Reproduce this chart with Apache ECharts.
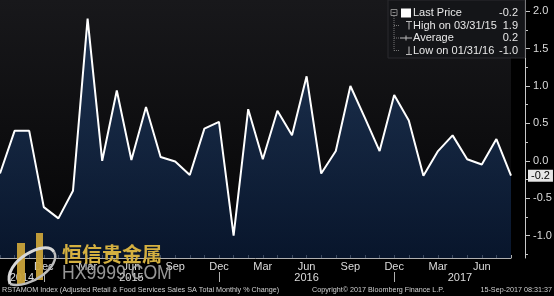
<!DOCTYPE html>
<html><head><meta charset="utf-8">
<script src="https://cdn.jsdelivr.net/npm/echarts@6/dist/echarts.min.js"></script>
<style>html,body{margin:0;padding:0;background:#000;}#c{width:554px;height:296px;}</style>
</head><body><div id="c"></div>
<script>
const categories = ['2014-09','2014-10','2014-11','2014-12','2015-01','2015-02','2015-03','2015-04','2015-05','2015-06','2015-07','2015-08','2015-09','2015-10','2015-11','2015-12','2016-01','2016-02','2016-03','2016-04','2016-05','2016-06','2016-07','2016-08','2016-09','2016-10','2016-11','2016-12','2017-01','2017-02','2017-03','2017-04','2017-05','2017-06','2017-07','2017-08'];
const values = [-0.17,0.4,0.4,-0.62,-0.77,-0.4,1.9,0.0,0.94,0.01,0.72,0.05,-0.01,-0.19,0.43,0.52,-1.0,0.69,0.02,0.67,0.34,1.13,-0.17,0.13,1.0,0.57,0.13,0.88,0.54,-0.2,0.13,0.34,0.02,-0.05,0.29,-0.2];
const monthNames = ['Jan','Feb','Mar','Apr','May','Jun','Jul','Aug','Sep','Oct','Nov','Dec'];
const labelMonths = [3,6,9,12];
const yearLabels = ['2014','2015','2016','2017'];
const yearLabelPos = [1.5,9,21,31.5];
const yTicks = [-1.0,-0.5,0.0,0.5,1.0,1.5,2.0];
const yMinorTicks = [-1.25,-0.75,-0.25,0.25,0.75,1.25,1.75];
const footerLeft = 'RSTAMOM Index (Adjusted Retail & Food Services Sales SA Total Monthly % Change)';
const footerMid = 'Copyright\u00A9 2017 Bloomberg Finance L.P.';
const footerRight = '15-Sep-2017 08:31:37';
const wmCn = '恒信贵金属';
const wmEn = 'HX9999.COM';

const chart = echarts.init(document.getElementById('c'), null, {renderer:'canvas'});
const n = values.length;
const last = values[n-1];
let maxI = 0, minI = 0, sum = 0;
values.forEach((v,i)=>{ if (v>values[maxI]) maxI=i; if (v<values[minI]) minI=i; sum+=v; });
const avg = sum/n;
function fmtDate(c){ const [y,m]=c.split('-').map(Number); const d=new Date(y,m,0).getDate(); return String(m).padStart(2,'0')+'/'+d+'/'+String(y).slice(2); }
const legendRows = [
  ['Last Price', last.toFixed(1)],
  ['High on '+fmtDate(categories[maxI]), values[maxI].toFixed(1)],
  ['Average', avg.toFixed(1)],
  ['Low on '+fmtDate(categories[minI]), values[minI].toFixed(1)]
];
const decIdx = categories.map((c,i)=>c.endsWith('-12')?i:-1).filter(i=>i>=0);
const yearAt = {};
yearLabelPos.forEach((p,k)=>{ yearAt[Math.floor(p)] = {t:yearLabels[k], half:(p%1)!==0}; });

const FONT = 'Liberation Sans';
const legendGraphics = [];
const rowY = [13, 25.5, 38, 50.5];
legendGraphics.push({type:'rect', shape:{x:388,y:0,width:137,height:58}, style:{fill:'#141518', stroke:'#2a2a2e', lineWidth:1}, z:10});
legendRows.forEach((r,k)=>{
  legendGraphics.push({type:'text', x:413, y:rowY[k], style:{text:r[0], fill:'#e8e8e8', font:'11px '+FONT, verticalAlign:'middle'}, z:11});
  legendGraphics.push({type:'text', x:518, y:rowY[k], style:{text:r[1], fill:'#e8e8e8', font:'11px '+FONT, verticalAlign:'middle', align:'right'}, z:11});
});
legendGraphics.push({type:'rect', shape:{x:401,y:8.5,width:10,height:9}, style:{fill:'#fff'}, z:11});
legendGraphics.push({type:'rect', shape:{x:391,y:9.5,width:6,height:6}, style:{fill:'none', stroke:'#888', lineWidth:1}, z:11});
legendGraphics.push({type:'line', shape:{x1:392.5,y1:12.5,x2:395.5,y2:12.5}, style:{stroke:'#888', lineWidth:1}, z:11});
legendGraphics.push({type:'line', shape:{x1:394,y1:16,x2:394,y2:50.5}, style:{stroke:'#777', lineWidth:1, lineDash:[1,1]}, z:11});
[25.5,38,50.5].forEach(y=>legendGraphics.push({type:'line', shape:{x1:394,y1:y,x2:399,y2:y}, style:{stroke:'#777', lineWidth:1, lineDash:[1,1]}, z:11}));
legendGraphics.push({type:'line', shape:{x1:406,y1:21.5,x2:412,y2:21.5}, style:{stroke:'#bbb', lineWidth:1}, z:11});
legendGraphics.push({type:'line', shape:{x1:409,y1:21.5,x2:409,y2:29.5}, style:{stroke:'#bbb', lineWidth:1}, z:11});
legendGraphics.push({type:'line', shape:{x1:400,y1:38,x2:412,y2:38}, style:{stroke:'#bbb', lineWidth:1}, z:11});
legendGraphics.push({type:'line', shape:{x1:406,y1:35.5,x2:406,y2:40.5}, style:{stroke:'#bbb', lineWidth:1}, z:11});
legendGraphics.push({type:'line', shape:{x1:409,y1:46.5,x2:409,y2:54.5}, style:{stroke:'#bbb', lineWidth:1}, z:11});
legendGraphics.push({type:'line', shape:{x1:406,y1:54.5,x2:412,y2:54.5}, style:{stroke:'#bbb', lineWidth:1}, z:11});

const wm = [
  {type:'rect', shape:{x:17,y:243,width:8,height:42}, style:{fill:'#c9a23a', opacity:0.95}, z:20},
  {type:'rect', shape:{x:36,y:233,width:7,height:47}, style:{fill:'#c9a23a', opacity:0.95}, z:20},
  {type:'bezierCurve', shape:{x1:10,y1:284,x2:54,y2:252,cpx1:2,cpy1:262,cpx2:46,cpy2:238}, style:{stroke:'#d8d8d8', lineWidth:3, fill:'none'}, z:21},
  {type:'bezierCurve', shape:{x1:10,y1:284,x2:54,y2:252,cpx1:30,cpy1:290,cpx2:62,cpy2:265}, style:{stroke:'#bdbdbd', lineWidth:2.5, fill:'none'}, z:21},
  {type:'text', x:62, y:244, style:{text:wmCn, fill:'#d4b040', font:'bold 20px "Noto Sans CJK SC"', verticalAlign:'top'}, z:20},
  {type:'text', x:62, y:263, scaleX:0.84, style:{text:wmEn, fill:'#a6a6a6', font:'21px '+FONT, verticalAlign:'top', opacity:0.9}, z:20}
];
const footer = [
  {type:'text', x:2, y:290, style:{text:footerLeft, fill:'#d0d0d0', font:'7.2px '+FONT, verticalAlign:'middle'}, z:5},
  {type:'text', x:312, y:290, style:{text:footerMid, fill:'#d0d0d0', font:'7.2px '+FONT, verticalAlign:'middle'}, z:5},
  {type:'text', x:552, y:290, style:{text:footerRight, fill:'#d0d0d0', font:'7.2px '+FONT, verticalAlign:'middle', align:'right'}, z:5}
];

const yCommon = {type:'value', position:'right', offset:14, min:-1.3, max:2.15, splitLine:{show:false}};
chart.setOption({
  animation:false,
  backgroundColor:'#000',
  grid:{left:0, right:43, top:0, bottom:38, show:true, borderWidth:0, outerBoundsMode:'none', containLabel:false,
    backgroundColor:{type:'linear',x:0,y:0,x2:0,y2:1,colorStops:[{offset:0,color:'#18181b'},{offset:1,color:'#040405'}]}},
  xAxis:[{
    type:'category', data:categories, boundaryGap:false, position:'bottom',
    axisLine:{onZero:false, lineStyle:{color:'#b0b0b0', width:1}},
    axisTick:{show:true, inside:true, length:3, interval:0, lineStyle:{color:'#b0b0b0'}},
    axisLabel:{color:'#dcdcdc', fontSize:11, fontFamily:FONT, margin:3,
      interval:(i,v)=> i>0 && labelMonths.includes(Number(v.split('-')[1])),
      formatter:(v)=>monthNames[Number(v.split('-')[1])-1]},
    splitLine:{show:false}
  },{
    type:'category', data:categories, boundaryGap:false, position:'bottom', offset:14,
    axisLine:{show:false, onZero:false},
    axisTick:{show:true, inside:false, length:10, interval:(i)=>decIdx.includes(i), lineStyle:{color:'#b0b0b0'}},
    axisLabel:{color:'#dcdcdc', fontSize:11, fontFamily:FONT, margin:0,
      interval:(i)=>yearAt[i]!==undefined,
      formatter:(v,i)=>{ const y=yearAt[i]; return y ? (y.half?'{h|'+y.t+'}':y.t) : ''; },
      rich:{h:{padding:[0,0,0,14.6], fontSize:11, fontFamily:FONT, color:'#dcdcdc'}}},
    splitLine:{show:false}
  }],
  yAxis:[Object.assign({}, yCommon, {
    axisLine:{show:true, lineStyle:{color:'#c8c8c8'}},
    axisTick:{show:true, inside:false, length:5, customValues:yTicks, lineStyle:{color:'#c8c8c8'}},
    axisLabel:{color:'#dcdcdc', fontSize:11, fontFamily:FONT, margin:8, customValues:yTicks,
      formatter:(v)=>Number(v).toFixed(1)}
  }), Object.assign({}, yCommon, {
    axisLine:{show:false},
    axisTick:{show:true, inside:false, length:3, customValues:yMinorTicks, lineStyle:{color:'#c8c8c8'}},
    axisLabel:{show:false}
  })],
  series:[{
    type:'line', data:values, symbol:'none', xAxisIndex:0, yAxisIndex:0,
    lineStyle:{color:'#ffffff', width:2},
    areaStyle:{origin:'start', color:{type:'linear',x:0,y:0,x2:0,y2:1,colorStops:[{offset:0,color:'#22406a'},{offset:1,color:'#0a1d3c'}]}},
    endLabel:{show:true, distance:17, formatter:(p)=>Number(p.value).toFixed(1), color:'#000', backgroundColor:'#e6e6e6',
      padding:[1,3,0,3], fontSize:11, fontFamily:FONT}
  }],
  graphic:[...legendGraphics, ...wm, ...footer]
});
</script></body></html>
